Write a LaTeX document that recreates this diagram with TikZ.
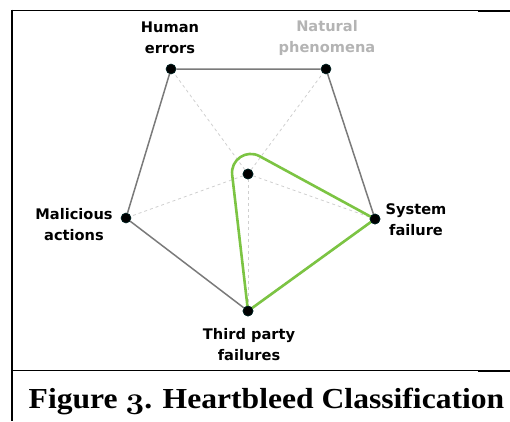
\documentclass[tikz,border=0pt]{standalone}
\usepackage{fontspec}
\setmainfont{Liberation Serif}
\newfontfamily\labelfont{DejaVu Sans}
\usetikzlibrary{calc}
% old-style figure taken from the bold math italic font
\newcommand{\osfig}[1]{{\usefont{OML}{cmm}{b}{it}\scalebox{1.2}{#1}}}
\definecolor{edgegray}{HTML}{7A7A7A}
\definecolor{spokegray}{HTML}{CFCFCF}
\definecolor{hlgreen}{HTML}{7CC443}
\definecolor{dimtext}{HTML}{B4B4B4}
\tikzset{
  framerule/.style={black, line width=1pt},
  edgeline/.style={edgegray, line width=1.5pt},
  spoke/.style={spokegray, line width=0.8pt, dash pattern=on 3pt off 3pt},
  dot/.style={circle, fill=black, draw=black!70!teal, line width=0.6pt, minimum size=10pt, inner sep=0pt},
  lbl/.style={font=\labelfont\bfseries\fontsize{14.6}{21}\selectfont, align=center, inner sep=0pt},
  hlpath/.style={hlgreen, line width=2.6pt, line join=round}
}
\begin{document}
\begin{tikzpicture}[x=1pt, y=-1pt]
\useasboundingbox (0,0) rectangle (510,421);

% table rules
\draw[framerule] (12,10) -- (510,10);
\draw[black, line width=2pt] (478,10.5) -- (510,10.5);
\draw[framerule] (12,370) -- (510,370);
\draw[black, line width=2pt] (478,370.5) -- (510,370.5);
\draw[black, line width=2pt] (12,9.5) -- (12,421);

% axis points
\node[dot] (he) at (171,69) {};
\node[dot] (np) at (326,69) {};
\node[dot] (sf) at (375,219) {};
\node[dot] (tp) at (248,311) {};
\node[dot] (ma) at (126,218) {};
\node[dot] (ct) at (248,174) {};

% spokes from the centre
\foreach \p in {he,np,sf,tp,ma}
  \draw[spoke] (ct) -- (\p);

% outer pentagon
\draw[edgeline] (he) -- (np) -- (sf) -- (tp) -- (ma) -- (he);

% highlighted profile with a filleted peak
\coordinate (pk) at (228,139);
\coordinate (ps) at ($(pk)!36pt!(tp)$);
\coordinate (pe) at ($(pk)!36pt!(sf)$);
\draw[hlpath] (tp.center) -- (ps) .. controls ($(ps)!0.42!(pk)$) and ($(pe)!0.42!(pk)$) .. (pe) -- (sf.center) -- cycle;

% dots kept above the profile
\node[dot] at (sf) {};
\node[dot] at (tp) {};
\node[dot] at (ct) {};

% labels
\node[lbl] (lhe) at (170,38) {Human\\errors};
\node[lbl, text=dimtext] (lnp) at (327,38) {Natural\\phenomena};
\node[lbl] (lma) at (74,225) {Malicious\\actions};
\node[lbl] (lsf) at (416,220) {System\\failure};
\node[lbl] (ltp) at (249,345) {Third party\\failures};

% caption
\node[font=\bfseries\fontsize{29}{31}\selectfont, anchor=base, inner sep=0pt] (cap) at (266.5,408)
  {\scalebox{1.09}[1]{Figure \osfig{3}. Heartbleed Classification}};
\end{tikzpicture}
\end{document}
